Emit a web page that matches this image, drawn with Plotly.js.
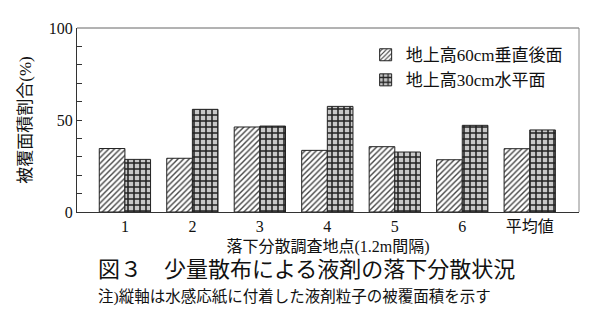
<!DOCTYPE html>
<html><head><meta charset="utf-8">
<script src="https://cdn.plot.ly/plotly-3.0.1.min.js"></script>
<style>body{margin:0;background:#fff}</style>
</head><body>
<div id="chart" style="width:600px;height:330px"></div>
<script>
const categories = ['1','2','3','4','5','6','平均値'];
const seriesNames = ['地上高60cm垂直後面','地上高30cm水平面'];
const vertical60 = [34.5, 29.2, 46.2, 33.5, 35.5, 28.4, 34.4];
const horizontal30 = [28.6, 55.8, 46.7, 57.4, 32.6, 47.1, 44.6];
const yTicks = [0, 50, 100];

const F = 'Liberation Serif, Noto Sans CJK JP, serif';
const traces = [
  {type:'bar', name:seriesNames[0], x:categories, y:vertical60,
   marker:{color:'#fff', line:{color:'#222', width:1},
     pattern:{shape:'/', fgcolor:'#444', bgcolor:'#fff', size:4, solidity:0.35}}},
  {type:'bar', name:seriesNames[1], x:categories, y:horizontal30,
   marker:{color:'#fff', line:{color:'#222', width:1},
     pattern:{shape:'+', fgcolor:'#222', bgcolor:'#c8c8c8', size:6, solidity:0.45}}}
];
const layout = {
  width:600, height:330,
  margin:{l:77, r:21, t:28, b:118},
  paper_bgcolor:'#fff', plot_bgcolor:'#fff',
  font:{family:F, color:'#111', size:15},
  barmode:'group', bargap:0.24, bargroupgap:0,
  showlegend:true,
  legend:{x:0.575, y:0.95, xanchor:'left', yanchor:'top', bgcolor:'rgba(0,0,0,0)',
    font:{family:F, size:17}, tracegroupgap:0, itemwidth:30},
  xaxis:{type:'category', range:[-0.71, 6.73], showline:true, linecolor:'#333', linewidth:1, mirror:false,
    ticks:'', tickfont:{family:F, size:16}, showgrid:false, zeroline:false,
    title:{text:'落下分散調査地点(1.2m間隔)', font:{family:F, size:16}, standoff:6}},
  yaxis:{range:[0,100], tickvals:yTicks, showline:true, linecolor:'#333', linewidth:1,
    ticks:'inside', ticklen:5, tickcolor:'#333', showgrid:false, zeroline:false,
    tickfont:{family:F, size:16},
    minor:{dtick:10, ticks:'inside', ticklen:5, tickcolor:'#333', showgrid:false},
    title:{text:'被覆面積割合(%)', font:{family:F, size:17}, standoff:12}},
  shapes:[
    {type:'line', xref:'paper', yref:'paper', x0:0, x1:1, y0:1, y1:1, line:{color:'#666', width:1}},
    {type:'line', xref:'paper', yref:'paper', x0:1, x1:1, y0:0, y1:1, line:{color:'#888', width:1}}
  ],
  annotations:[
    {text:'図３　少量散布による液剤の落下分散状況', xref:'paper', yref:'paper', x:0.458, y:-0.31,
     xanchor:'center', yanchor:'middle', showarrow:false, font:{family:F, size:22, color:'#111'}},
    {text:'注)縦軸は水感応紙に付着した液剤粒子の被覆面積を示す', xref:'paper', yref:'paper', x:0.434, y:-0.462,
     xanchor:'center', yanchor:'middle', showarrow:false, font:{family:F, size:15.5, color:'#111'}}
  ]
};
Plotly.newPlot('chart', traces, layout, {displayModeBar:false, staticPlot:true});
</script>
</body></html>
